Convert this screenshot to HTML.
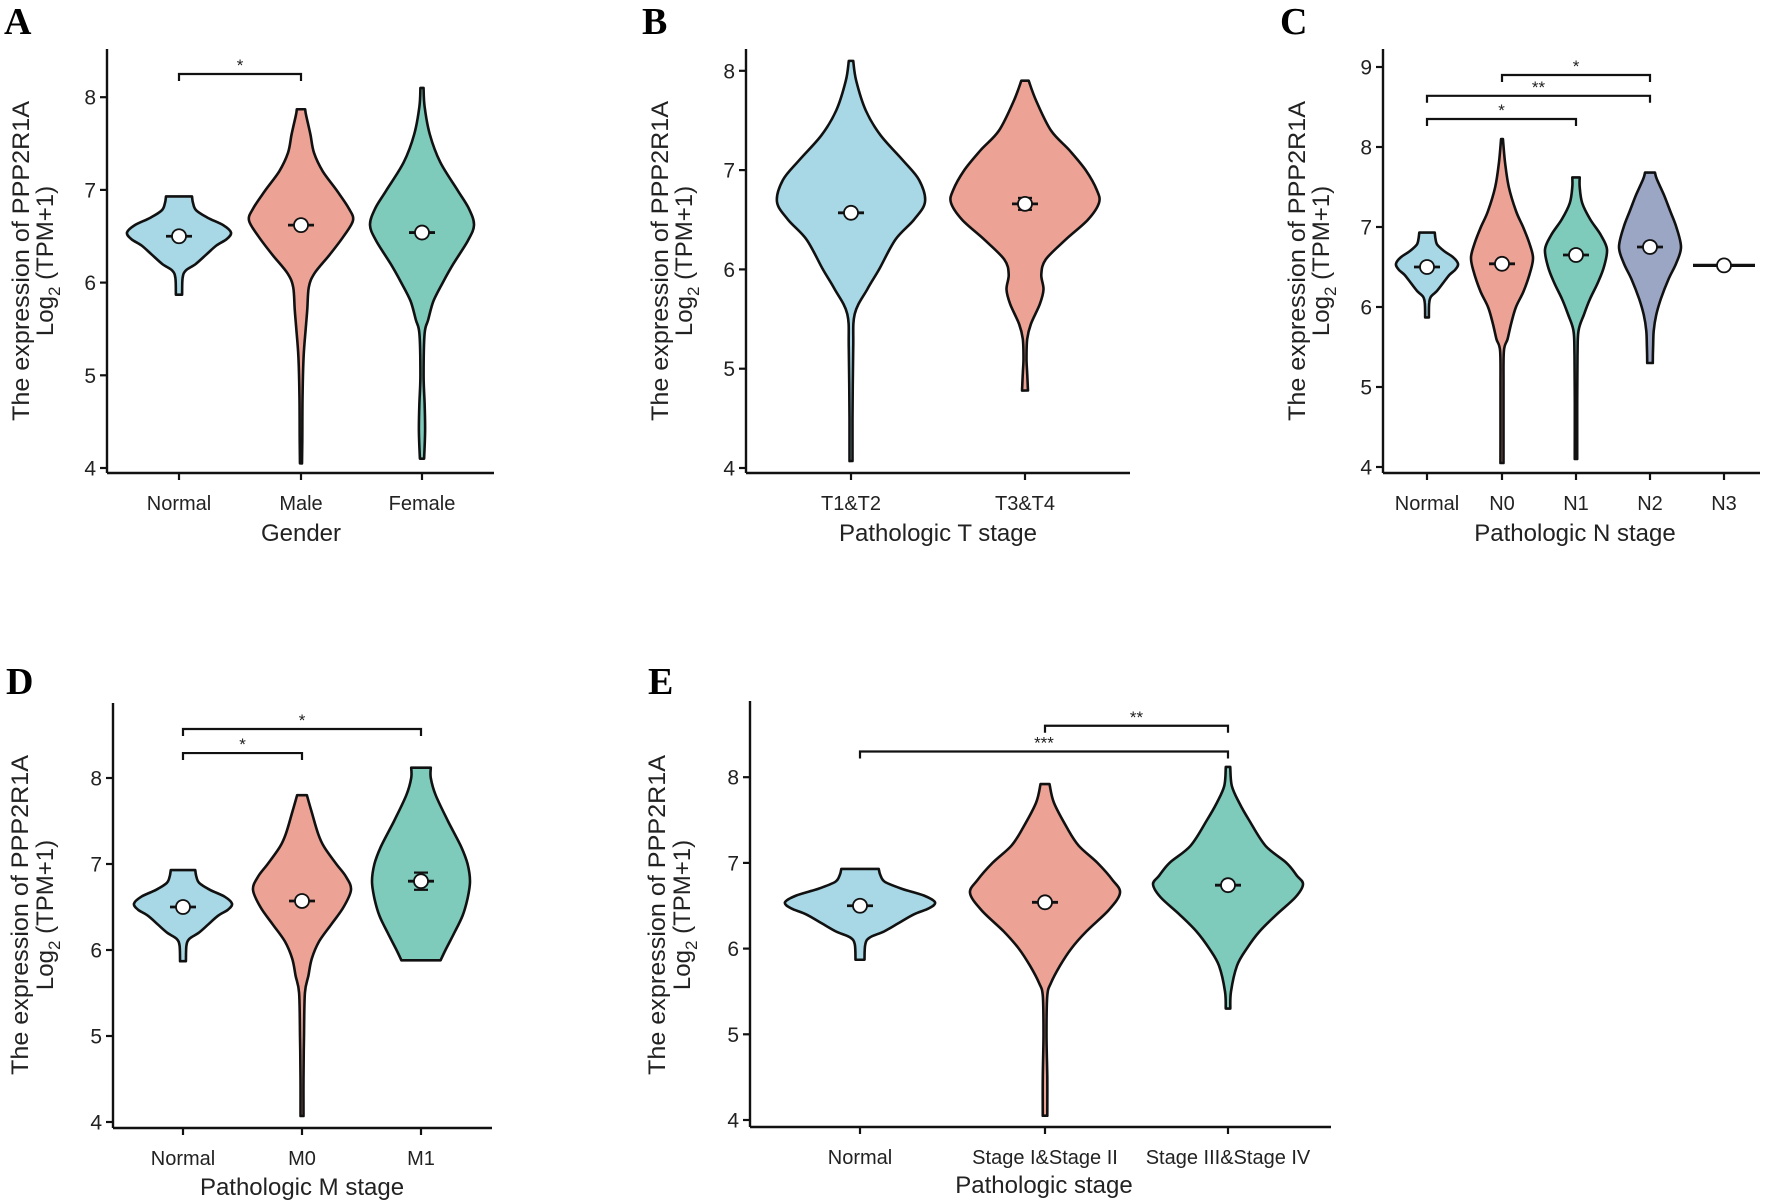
<!DOCTYPE html>
<html><head><meta charset="utf-8"><style>
html,body{margin:0;padding:0;background:#fff;}
svg{display:block;font-family:"Liberation Sans",sans-serif;}
</style></head><body>
<svg id="fig" width="1772" height="1204" viewBox="0 0 1772 1204" xmlns="http://www.w3.org/2000/svg"></svg>
<script>
// ---------- DATA ----------
const yTicks48 = [4,5,6,7,8];
const yTicks49 = [4,5,6,7,8,9];
const normalProfile = [[6.93,0.25],[6.86,0.27],[6.78,0.33],[6.7,0.55],[6.62,0.85],[6.54,1],[6.47,0.92],[6.4,0.72],[6.3,0.52],[6.2,0.32],[6.13,0.13],[6.05,0.07],[5.87,0.06]];
// Panel A
const catsA = ["Normal","Male","Female"];
const medA = [6.5,6.62,6.54];
const errA = [0.02,0.03,0.02];
const maleA = [[7.87,0.08],[7.8,0.1],[7.6,0.18],[7.4,0.25],[7.2,0.42],[7.0,0.68],[6.8,0.92],[6.67,1],[6.5,0.82],[6.3,0.55],[6.1,0.26],[5.95,0.15],[5.7,0.12],[5.5,0.09],[5.2,0.05],[4.8,0.03],[4.3,0.025],[4.05,0.02]];
const femaleA = [[8.1,0.03],[7.9,0.05],[7.6,0.15],[7.3,0.35],[7.0,0.68],[6.8,0.9],[6.62,1],[6.45,0.88],[6.2,0.6],[6.0,0.4],[5.8,0.22],[5.6,0.12],[5.45,0.05],[5.0,0.03],[4.7,0.05],[4.4,0.06],[4.1,0.04]];
// Panel B
const catsB = ["T1&T2","T3&T4"];
const medB = [6.57,6.66];
const errB = [0.02,0.06];
const t12B = [[8.1,0.03],[7.9,0.07],[7.6,0.2],[7.35,0.4],[7.1,0.7],[6.9,0.92],[6.68,1],[6.5,0.85],[6.3,0.6],[6.0,0.38],[5.8,0.22],[5.55,0.05],[5.2,0.03],[4.5,0.02],[4.07,0.02]];
const t34B = [[7.9,0.05],[7.7,0.15],[7.4,0.35],[7.2,0.6],[7.0,0.82],[6.8,0.97],[6.67,1],[6.5,0.85],[6.3,0.55],[6.1,0.28],[5.95,0.22],[5.8,0.25],[5.65,0.2],[5.45,0.08],[5.3,0.03],[5.1,0.02],[4.95,0.03],[4.78,0.04]];
// Panel C
const catsC = ["Normal","N0","N1","N2","N3"];
const medC = [6.5,6.54,6.65,6.75,6.52];
const errC = [0.02,0.02,0.03,0.03,0];
const n0C = [[8.1,0.03],[7.8,0.1],[7.5,0.22],[7.2,0.45],[7.0,0.68],[6.8,0.88],[6.62,1],[6.45,0.92],[6.2,0.7],[6.0,0.45],[5.8,0.3],[5.6,0.18],[5.45,0.06],[5.0,0.05],[4.5,0.05],[4.05,0.05]];
const n1C = [[7.62,0.12],[7.5,0.12],[7.3,0.2],[7.1,0.45],[6.9,0.8],[6.72,1],[6.5,0.9],[6.3,0.7],[6.1,0.45],[5.9,0.25],[5.7,0.08],[5.4,0.05],[4.8,0.04],[4.1,0.04]];
const n2C = [[7.68,0.16],[7.6,0.22],[7.4,0.45],[7.2,0.65],[7.0,0.85],[6.75,1],[6.55,0.85],[6.35,0.6],[6.1,0.35],[5.9,0.2],[5.7,0.12],[5.5,0.1],[5.3,0.09]];
// Panel D
const catsD = ["Normal","M0","M1"];
const medD = [6.5,6.57,6.8];
const errD = [0.02,0.02,0.1];
const m0D = [[7.8,0.1],[7.6,0.2],[7.35,0.33],[7.2,0.45],[7.0,0.7],[6.85,0.9],[6.7,1],[6.5,0.85],[6.3,0.6],[6.1,0.35],[5.9,0.2],[5.7,0.13],[5.5,0.06],[5.0,0.04],[4.5,0.03],[4.07,0.03]];
const m1D = [[8.12,0.2],[8.0,0.2],[7.8,0.3],[7.5,0.55],[7.2,0.82],[7.0,0.95],[6.8,1],[6.6,0.95],[6.4,0.85],[6.2,0.68],[6.0,0.5],[5.88,0.4]];
// Panel E
const catsE = ["Normal","Stage I&Stage II","Stage III&Stage IV"];
const medE = [6.5,6.54,6.74];
const errE = [0.02,0.02,0.02];
const s12E = [[7.92,0.06],[7.7,0.12],[7.4,0.3],[7.2,0.45],[7.0,0.7],[6.8,0.9],[6.65,1],[6.45,0.85],[6.2,0.55],[6.0,0.35],[5.8,0.2],[5.6,0.08],[5.45,0.03],[5.0,0.02],[4.5,0.03],[4.05,0.03]];
const s34E = [[8.12,0.03],[7.9,0.05],[7.7,0.15],[7.5,0.28],[7.2,0.5],[7.0,0.78],[6.85,0.92],[6.75,1],[6.6,0.9],[6.4,0.65],[6.2,0.42],[6.0,0.25],[5.8,0.12],[5.5,0.04],[5.3,0.03]];
// significance brackets: [fromIndex, toIndex, yValue, label]
const sigA = [[0,1,8.25,"*"]];
const sigC = [[1,3,8.9,"*"],[0,3,8.64,"**"],[0,2,8.35,"*"]];
const sigD = [[0,2,8.57,"*"],[0,1,8.29,"*"]];
const sigE = [[1,2,8.6,"**"],[0,2,8.3,"***"]];

const BLUE="#a8d8e6", SALMON="#eca396", TEAL="#7ecabb", SLATE="#9ba6c4";
const NS="http://www.w3.org/2000/svg";
const svg=document.getElementById('fig');

function mk(tag,attrs,parent){const e=document.createElementNS(NS,tag);for(const k in attrs)e.setAttribute(k,attrs[k]);(parent||svg).appendChild(e);return e;}

function smoothSide(pts){
  let d="";
  for(let i=0;i<pts.length-1;i++){
    const p0=pts[Math.max(0,i-1)],p1=pts[i],p2=pts[i+1],p3=pts[Math.min(pts.length-1,i+2)];
    const c1=[p1[0]+(p2[0]-p0[0])/6,p1[1]+(p2[1]-p0[1])/6];
    const c2=[p2[0]-(p3[0]-p1[0])/6,p2[1]-(p3[1]-p1[1])/6];
    d+=` C${c1[0].toFixed(1)},${c1[1].toFixed(1)} ${c2[0].toFixed(1)},${c2[1].toFixed(1)} ${p2[0].toFixed(1)},${p2[1].toFixed(1)}`;
  }
  return d;
}

function panel(cfg){
  const g=mk('g',{});
  
  
  const yS=v=>cfg.y4-(v-4)*cfg.unit;
  const xS=i=>cfg.cats[i];
  const L=mk('text',{x:cfg.letter[0],y:cfg.letter[1],'font-family':'Liberation Serif, serif','font-weight':'bold','font-size':38},g);
  L.textContent=cfg.id.toUpperCase();
  
  
  cfg.violins.forEach((v,i)=>{
    const cx=xS(i);
    if(v.prof){
      const right=v.prof.map(p=>[cx+p[1]*cfg.maxw,yS(p[0])]);
      const left=v.prof.slice().reverse().map(p=>[cx-p[1]*cfg.maxw,yS(p[0])]);
      let d=`M${cx},${yS(v.prof[0][0])} L${right[0][0]},${right[0][1]}`+smoothSide(right)+` L${left[0][0]},${left[0][1]}`+smoothSide(left)+" Z";
      const p=mk('path',{d:d,fill:v.color,stroke:'#111','stroke-width':2.6,'stroke-linejoin':'round'},g);
      
      
    }else{
      const p=mk('line',{x1:cx-cfg.maxw,x2:cx+cfg.maxw,y1:yS(cfg.med[i]),y2:yS(cfg.med[i]),stroke:'#111','stroke-width':3.2},g);
      
      
    }
    const my=yS(cfg.med[i]);
    const mg=mk('g',{},g);
    
    
    if(v.prof){
      mk('line',{x1:cx-13,x2:cx+13,y1:my,y2:my,stroke:'#111','stroke-width':2.8},mg);
      const e=cfg.err[i]*cfg.unit;
      if(e>3){
        mk('line',{x1:cx,x2:cx,y1:my-e,y2:my+e,stroke:'#111','stroke-width':2.2},mg);
        mk('line',{x1:cx-7,x2:cx+7,y1:my-e,y2:my-e,stroke:'#111','stroke-width':2.2},mg);
        mk('line',{x1:cx-7,x2:cx+7,y1:my+e,y2:my+e,stroke:'#111','stroke-width':2.2},mg);
      }
    }
    mk('circle',{cx:cx,cy:my,r:7,fill:'#fff',stroke:'#111','stroke-width':1.8},mg);
  });
  const ax=mk('g',{},g);
  
  
  mk('line',{x1:cfg.ax,x2:cfg.ax,y1:cfg.top,y2:cfg.xy,stroke:'#111','stroke-width':2.4},ax);
  cfg.ticks.forEach(t=>{
    const y=yS(t);
    mk('line',{x1:cfg.ax-7,x2:cfg.ax,y1:y,y2:y,stroke:'#111','stroke-width':2.2},ax);
    const tx=mk('text',{x:cfg.ax-11,y:y+7.5,'text-anchor':'end','font-size':21,fill:'#222'},ax);
    tx.textContent=t;
    
    
  });
  const xa=mk('g',{},g);
  
  
  mk('line',{x1:cfg.ax,x2:cfg.right,y1:cfg.xy,y2:cfg.xy,stroke:'#111','stroke-width':2.4},xa);
  cfg.labels.forEach((lab,i)=>{
    const x=xS(i);
    mk('line',{x1:x,x2:x,y1:cfg.xy,y2:cfg.xy+7,stroke:'#111','stroke-width':2.2},xa);
    const tx=mk('text',{x:x,y:cfg.xy+37,'text-anchor':'middle','font-size':20,fill:'#222'},xa);
    tx.textContent=lab;
    
    
  });
  const xt=mk('text',{x:cfg.xtitle[0],y:cfg.xtitle[1],'text-anchor':'middle','font-size':24,fill:'#222'},g);
  xt.textContent=cfg.xlabel;
  
  
  const yt=mk('text',{transform:`translate(${cfg.yt[0]},${cfg.yt[2]}) rotate(-90)`,'text-anchor':'middle','font-size':24,fill:'#222',textLength:320,lengthAdjust:'spacingAndGlyphs'},g);
  yt.textContent="The expression of PPP2R1A";
  
  
  const yt2=mk('text',{transform:`translate(${cfg.yt[1]},${cfg.yt[2]}) rotate(-90)`,'text-anchor':'middle','font-size':24,fill:'#222'},g);
  yt2.innerHTML='Log<tspan font-size="17" dy="7">2</tspan><tspan dy="-7"> (TPM+1)</tspan>';
  
  
  (cfg.sig||[]).forEach(s=>{
    const x1=xS(s[0]),x2=xS(s[1]),y=yS(s[2]);
    const bg=mk('g',{},g);
    
    
    mk('path',{d:`M${x1},${y+7} L${x1},${y} L${x2},${y} L${x2},${y+7}`,fill:'none',stroke:'#111','stroke-width':2.2},bg);
    const st=mk('text',{x:(x1+x2)/2,y:y-3,'text-anchor':'middle','font-size':17,fill:'#222'},bg);
    st.textContent=s[3];
  });
}

panel({id:'a',letter:[4,34],ax:107,top:49,xy:473,right:494,y4:468,unit:92.7,ticks:yTicks48,
  cats:[179,301,422],labels:catsA,med:medA,err:errA,maxw:52,
  violins:[{prof:normalProfile,color:BLUE},{prof:maleA,color:SALMON},{prof:femaleA,color:TEAL}],
  xlabel:"Gender",xtitle:[301,541],yt:[29,53,261],sig:sigA});
panel({id:'b',letter:[642,34],ax:746,top:49,xy:473,right:1130,y4:468,unit:99.3,ticks:yTicks48,
  cats:[851,1025],labels:catsB,med:medB,err:errB,maxw:74,
  violins:[{prof:t12B,color:BLUE},{prof:t34B,color:SALMON}],
  xlabel:"Pathologic T stage",xtitle:[938,541],yt:[668,692,261]});
panel({id:'c',letter:[1280,34],ax:1383,top:49,xy:473,right:1760,y4:467,unit:80,ticks:yTicks49,
  cats:[1427,1502,1576,1650,1724],labels:catsC,med:medC,err:errC,maxw:31,
  violins:[{prof:normalProfile,color:BLUE},{prof:n0C,color:SALMON},{prof:n1C,color:TEAL},{prof:n2C,color:SLATE},{prof:null}],
  xlabel:"Pathologic N stage",xtitle:[1575,541],yt:[1305,1329,261],sig:sigC});
panel({id:'d',letter:[6,694],ax:113,top:703,xy:1128,right:492,y4:1122,unit:86,ticks:yTicks48,
  cats:[183,302,421],labels:catsD,med:medD,err:errD,maxw:49,
  violins:[{prof:normalProfile,color:BLUE},{prof:m0D,color:SALMON},{prof:m1D,color:TEAL}],
  xlabel:"Pathologic M stage",xtitle:[302,1195],yt:[28,53,915],sig:sigD});
panel({id:'e',letter:[648,694],ax:750,top:701,xy:1127,right:1331,y4:1120,unit:85.7,ticks:yTicks48,
  cats:[860,1045,1228],labels:catsE,med:medE,err:errE,maxw:75,
  violins:[{prof:normalProfile,color:BLUE},{prof:s12E,color:SALMON},{prof:s34E,color:TEAL}],
  xlabel:"Pathologic stage",xtitle:[1044,1193],yt:[665,690,915],sig:sigE});
</script>
</body></html>
